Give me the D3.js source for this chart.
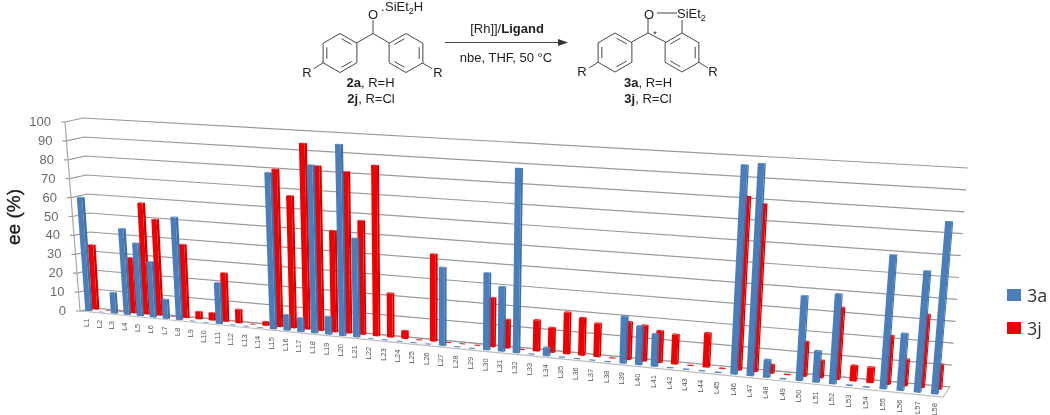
<!DOCTYPE html>
<html>
<head>
<meta charset="utf-8">
<style>
  html, body { margin: 0; padding: 0; background: #fff; }
  svg { display: block; font-family: "Liberation Sans", Arial, sans-serif; }
  .soft { filter: blur(0.35px); }
</style>
<script src="https://cdn.jsdelivr.net/npm/d3@7"></script>
</head>
<body>
<svg width="1050" height="415"></svg>
<script>
var categories = d3.range(1, 59).map(function(i) { return "L" + i; });

// L1 to L58
var ee3a = [60, 0, 11, 45, 38, 29, 10, 53, 0, 0,
  21, 0, 0, 0, 79, 8, 7, 84, 9, 95,
  49, 0, 0, 0, 0, 0, 38, 0, 0, 37,
  31, 88, 0, 4, 0, 0, 0, 0, 22, 18,
  15, 0, 0, 0, 0, 95, 96, 8, 0, 38,
  14, 40, 0, 0, 59, 25, 53, 75];
var ee3j = [34, 0, 0, 29, 58, 50, 0, 38, 4, 4,
  25, 7, 0, 2, 80, 67, 94, 83, 51, 81,
  57, 85, 22, 4, 0, 43, 0, 0, 0, 24,
  14, 0, 15, 12, 20, 18, 16, 0, 18, 17,
  15, 14, 0, 16, 0, 81, 78, 4, 0, 16,
  8, 33, 7, 7, 22, 12, 33, 11];
var yTicks = [0, 10, 20, 30, 40, 50, 60, 70, 80, 90, 100];
var legendNames = ["3a", "3j"];

var svg = d3.select("svg");

var uScale = d3.scaleBand().domain(categories).range([0, 1]);
var wScale = d3.scaleLinear().domain([0, 100]).range([0, 1]);

function lerp(a, b, t) {
  return [a[0] + (b[0] - a[0]) * t, a[1] + (b[1] - a[1]) * t];
}

// walls: [bottom left, bottom right, top right, top left]
var frontWall = [[80, 311], [943, 397], [963, 163], [65, 122]];
var backWall = [[94, 308], [950, 387], [968, 168], [83, 118]];

function wallPoint(q, t, w) {
  return lerp(lerp(q[0], q[1], t), lerp(q[3], q[2], t), w);
}

// categories get wider to the right, the camera is nearer there
var spread = 1.17;
function project(u, depth, value) {
  var t = u / (u + (1 - u) * spread);
  return lerp(wallPoint(frontWall, t, wScale(value)), wallPoint(backWall, t, wScale(value)), depth);
}

var chart = svg.append("g").attr("class", "soft");

// floor
chart.append("polygon")
  .attr("points", [project(0, 0, 0), project(1, 0, 0), project(1, 1, 0), project(0, 1, 0)].join(" "))
  .attr("fill", "#fff").attr("stroke", "#bdbdbd").attr("stroke-width", 1.2);

// grid: left wall then back wall
var gridLine = d3.line();
chart.selectAll(".grid").data(yTicks).enter().append("path")
  .attr("class", "grid")
  .attr("fill", "none").attr("stroke", "#9a9a9a").attr("stroke-width", 1.2)
  .attr("d", function(d) {
    var a = project(0, 0, d);
    return gridLine([[a[0] - 4, a[1]], a, project(0, 1, d), project(1, 1, d)]);
  });

chart.append("path")
  .attr("d", gridLine([project(0, 0, 0), project(0, 0, 100)]))
  .attr("stroke", "#a8a8a8").attr("stroke-width", 1.2).attr("fill", "none");

chart.selectAll(".ytick").data(yTicks).enter().append("text")
  .attr("class", "ytick")
  .attr("x", function(d) { return project(0, 0, d)[0] - 14; })
  .attr("y", function(d) { return project(0, 0, d)[1] + 4; })
  .attr("text-anchor", "end")
  .attr("font-size", 13)
  .attr("fill", "#6b6b6b")
  .text(function(d) { return d; });

chart.selectAll(".xlabel").data(categories).enter().append("text")
  .attr("class", "xlabel")
  .attr("transform", function(d) {
    var p = project(uScale(d) + uScale.bandwidth() / 2, 0, 0);
    return "translate(" + (p[0] + 2.5) + "," + (p[1] + 7) + ") rotate(-90)";
  })
  .attr("text-anchor", "end")
  .attr("font-size", 7.5)
  .attr("fill", "#555")
  .text(function(d) { return d; });

// one row of 3D columns
function drawRow(values, d0, d1, cFront, cSide, cTop) {
  var w = uScale.bandwidth();
  var rows = chart.append("g").selectAll("g").data(values).enter().append("g");
  function quad(fn) {
    return function(d, i) {
      var left = uScale(categories[i]) + w * 0.23, right = left + w * 0.4;
      return fn(d, left, right).join(" ");
    };
  }
  rows.append("polygon").attr("fill", cFront)
    .attr("points", quad(function(v, l, r) {
      return [project(l, d0, 0), project(r, d0, 0), project(r, d0, v), project(l, d0, v)];
    }));
  rows.append("polygon").attr("fill", cSide)
    .attr("points", quad(function(v, l, r) {
      return [project(r, d0, 0), project(r, d1, 0), project(r, d1, v), project(r, d0, v)];
    }));
  rows.append("polygon").attr("fill", cTop)
    .attr("points", quad(function(v, l, r) {
      return [project(l, d0, v), project(r, d0, v), project(r, d1, v), project(l, d1, v)];
    }));
}

drawRow(ee3j, 0.66, 0.82, "#f00000", "#d40000", "#f52020");
drawRow(ee3a, 0.17, 0.33, "#4a7ebb", "#3f70a8", "#5b8bc6");

svg.append("text")
  .attr("class", "soft")
  .attr("transform", "translate(20,217) rotate(-90)")
  .attr("text-anchor", "middle")
  .attr("font-size", 19)
  .attr("fill", "#1a1a1a")
  .attr("stroke", "#1a1a1a").attr("stroke-width", 0.3)
  .text("ee (%)");

// legend
var legend = svg.append("g").attr("class", "soft").selectAll("g").data(legendNames).enter().append("g")
  .attr("transform", function(d, i) { return "translate(1007," + (289 + i * 33) + ")"; });
legend.append("rect").attr("width", 14).attr("height", 12)
  .attr("fill", function(d, i) { return i ? "#f00000" : "#4a7ebb"; });
legend.append("text").attr("x", 20).attr("y", 12.5)
  .attr("font-size", 18).attr("font-family", "'Open Sans', sans-serif").attr("fill", "#333")
  .text(function(d) { return d; });

// reaction scheme
var scheme = svg.append("g").attr("class", "soft")
  .attr("stroke", "#333").attr("stroke-width", 0.9).attr("fill", "none");

function bond(x1, y1, x2, y2) {
  scheme.append("line").attr("x1", x1).attr("y1", y1).attr("x2", x2).attr("y2", y2);
}

function ring(cx, cy, doubles) {
  var r = 19.5;
  var pts = d3.range(6).map(function(i) {
    var a = -Math.PI / 2 + i * Math.PI / 3;
    return [cx + r * Math.cos(a), cy + r * Math.sin(a)];
  });
  scheme.append("polygon").attr("points", pts.join(" "));
  doubles.forEach(function(i) {
    var a = pts[i], b = pts[(i + 1) % 6];
    var k = 0.78;
    var ax = cx + (a[0] - cx) * k, ay = cy + (a[1] - cy) * k;
    var bx = cx + (b[0] - cx) * k, by = cy + (b[1] - cy) * k;
    bond(ax + (bx - ax) * 0.12, ay + (by - ay) * 0.12, bx - (bx - ax) * 0.12, by - (by - ay) * 0.12);
  });
}

function label(x, y, parts, anchor, size) {
  var t = svg.append("text").attr("class", "soft")
    .attr("x", x).attr("y", y)
    .attr("text-anchor", anchor || "middle")
    .attr("font-size", size || 13)
    .attr("fill", "#222");
  parts.forEach(function(p) {
    var s = t.append("tspan").text(p.t);
    if (p.b) s.attr("font-weight", "bold");
    if (p.sub) s.attr("font-size", 9).attr("dy", 2.5);
    if (p.up) s.attr("dy", -2.5);
  });
}

// left molecule
ring(340, 53, [0, 2, 4]);
ring(406, 53, [5, 1, 3]);
bond(373, 33.5, 356.5, 43);
bond(373, 33.5, 389.5, 43);
bond(373, 33.5, 373, 20);
bond(323.5, 62.5, 314, 68.5);
bond(422.5, 63, 432, 68.5);
label(373, 19, [{t: "O"}]);
label(381, 11, [{t: "."}], "start");
label(385, 11, [{t: "SiEt"}, {t: "2", sub: 1}, {t: "H", up: 1}], "start");
label(307, 77, [{t: "R"}]);
label(438, 77, [{t: "R"}]);
label(370.5, 87, [{t: "2a", b: 1}, {t: ", R=H"}]);
label(371, 103, [{t: "2j", b: 1}, {t: ", R=Cl"}]);

// arrow
bond(445, 42.5, 562, 42.5);
svg.append("path").attr("class", "soft").attr("d", "M568,42.5 L558,39 L558,46 Z").attr("fill", "#333");
label(507, 33, [{t: "[Rh]]/"}, {t: "Ligand", b: 1}]);
label(506, 62, [{t: "nbe, THF, 50 °C"}]);

// right molecule
ring(615, 52.5, [0, 2, 4]);
ring(682, 52.5, [1, 3, 5]);
bond(648, 33, 631.5, 42);
bond(648, 33, 665.5, 42);
bond(648, 33, 648, 19);
bond(598.5, 62, 589, 68);
bond(698.5, 62, 708, 68);
bond(682, 33, 682, 20);
bond(657, 13, 677, 13);
label(649, 18.5, [{t: "O"}]);
label(677, 18, [{t: "SiEt"}, {t: "2", sub: 1}], "start");
label(655, 37, [{t: "*"}], "middle", 9);
label(582, 76, [{t: "R"}]);
label(713, 76, [{t: "R"}]);
label(648, 87, [{t: "3a", b: 1}, {t: ", R=H"}]);
label(648, 103, [{t: "3j", b: 1}, {t: ", R=Cl"}]);
</script>
</body>
</html>
